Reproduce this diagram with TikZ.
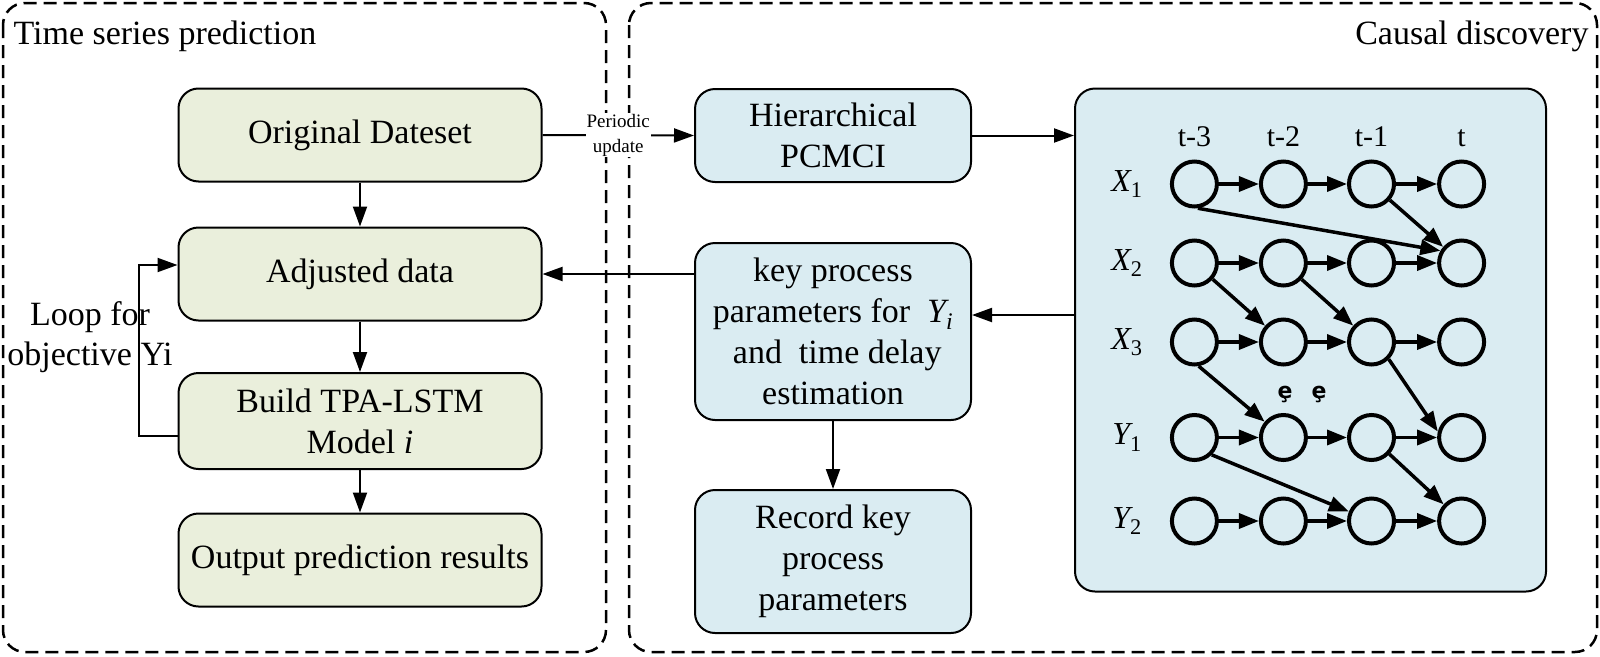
\documentclass[tikz,border=0pt]{standalone}
\usepackage{fontspec}
\setmainfont{Liberation Serif}
\newfontfamily\dejavu{DejaVu Sans}
\usetikzlibrary{arrows.meta}
\definecolor{gfill}{RGB}{234,239,220}
\definecolor{bfill}{RGB}{218,236,242}
\begin{document}
\begin{tikzpicture}[x=1pt,y=-1pt,
  gbox/.style={draw,line width=2pt,fill=gfill,rounded corners=20pt,minimum width=363pt,minimum height=93pt,align=center,font=\fontsize{34}{41}\selectfont},
  bbox/.style={draw,line width=2pt,fill=bfill,rounded corners=20pt,minimum width=276pt,minimum height=93pt,align=center,font=\fontsize{34}{41}\selectfont},
  region/.style={draw,line width=2.5pt,dash pattern=on 13pt off 7pt,rounded corners=22pt},
  conn/.style={line width=2pt,-{Triangle[length=20pt,width=14pt]}},
  cnode/.style={circle,draw,line width=4pt,minimum size=45pt,inner sep=0pt},
  gedge/.style={line width=3.5pt,-{Triangle[length=20pt,width=15pt]}},
  lbl/.style={font=\fontsize{30}{32}\selectfont},
  rlbl/.style={font=\fontsize{32}{34}\selectfont},
  title/.style={font=\fontsize{34}{40}\selectfont}
]
\useasboundingbox (0,0) rectangle (1600,656);
% regions
\draw[region] (3,3) rectangle (606,652);
\draw[region] (629,3) rectangle (1597,652);
\node[title,anchor=base west] (t1) at (10,44) {Time series prediction};
\node[title,anchor=base east] (t2) at (1592,44) {Causal discovery};
% left column
\node[gbox] (g1) at (360,135) {Original Dateset};
\node[gbox] (g2) at (360,274) {Adjusted data};
\node[gbox,minimum height=96pt] (g3) at (360,421) {Build TPA-LSTM\\Model \textit{i}};
\node[gbox] (g4) at (360,560) {Output prediction results};
% middle column
\node[bbox] (h) at (833,135.5) {Hierarchical\\PCMCI};
\node[bbox,minimum height=177pt] (key) at (833,331.5) {key process\\parameters for~ {\itshape Y}\textsubscript{\itshape i}\\~and~ time delay\\estimation};
\node[bbox,minimum height=143pt] (rec) at (833,561.5) {Record key\\process\\parameters};
% graph box
\node[draw,line width=2pt,fill=bfill,rounded corners=20pt,minimum width=471pt,minimum height=503pt,inner sep=0pt] (gb) at (1310.5,340) {};
% column labels
\foreach \x/\t/\n in {1194.4/t-3/c1,1283.4/t-2/c2,1371.5/t-1/c3,1461.6/t/c4}
  \node[lbl,anchor=base] (lab\n) at (\x,146) {\t};
% row labels and circles
\foreach \y/\r/\L/\s in {184/x1/X/1,263/x2/X/2,342/x3/X/3,437.5/y1/Y/1,521/y2/Y/2}{
  \node[rlbl] (lab\r) at (1127,\y) {{\itshape \L}\textsubscript{\s}};
  \foreach \x/\c in {1194.4/1,1283.4/2,1371.5/3,1461.6/4}
    \node[cnode] (\r\c) at (\x,\y) {};
}
% horizontal edges
\foreach \r in {x1,x2,x3,y1,y2}{
  \draw[gedge] (\r1) -- (\r2);
  \draw[gedge] (\r2) -- (\r3);
  \draw[gedge] (\r3) -- (\r4);
}
% diagonal edges
\draw[gedge] (x11.-82) -- (x24.150);
\draw[gedge] (x13) -- (x24);
\draw[gedge] (x21) -- (x32);
\draw[gedge] (x22) -- (x33);
\draw[gedge] (x31.-80) -- (y12);
\draw[gedge] (x33.-45) -- (y14.166);
\draw[gedge] (y11.-45) -- (y23);
\draw[gedge] (y13) -- (y24);
% dots
\node[font=\dejavu\bfseries\fontsize{22}{24}\selectfont] (d1) at (1285,394) {ȩ};
\node[font=\dejavu\bfseries\fontsize{22}{24}\selectfont] (d2) at (1319,394) {ȩ};
% connectors
\draw[conn] (g1) -- (g2);
\draw[conn] (g2) -- (g3);
\draw[conn] (g3) -- (g4);
\coordinate (lpa) at (139,436);
\coordinate (lpb) at (139,265);
\draw[conn] (g3.west |- lpa) -- (lpa) -- (lpb) -- (g2.west |- lpb);
\node[font=\fontsize{34}{40}\selectfont,align=center] (loop) at (90,337) {Loop for\\objective Yi};
\draw[conn] (g1.east) -- node[fill=white,inner sep=1pt,align=center,font=\fontsize{19}{25}\selectfont] (pu) {Periodic\\update} (h.west);
\draw[conn] (h.east) -- (h.east -| gb.west);
\coordinate (ka) at (1000,315);
\draw[conn] (gb.west |- ka) -- (key.east |- ka);
\draw[conn] (key.west |- g2) -- (g2.east);
\draw[conn] (key) -- (rec);
\end{tikzpicture}
\end{document}
